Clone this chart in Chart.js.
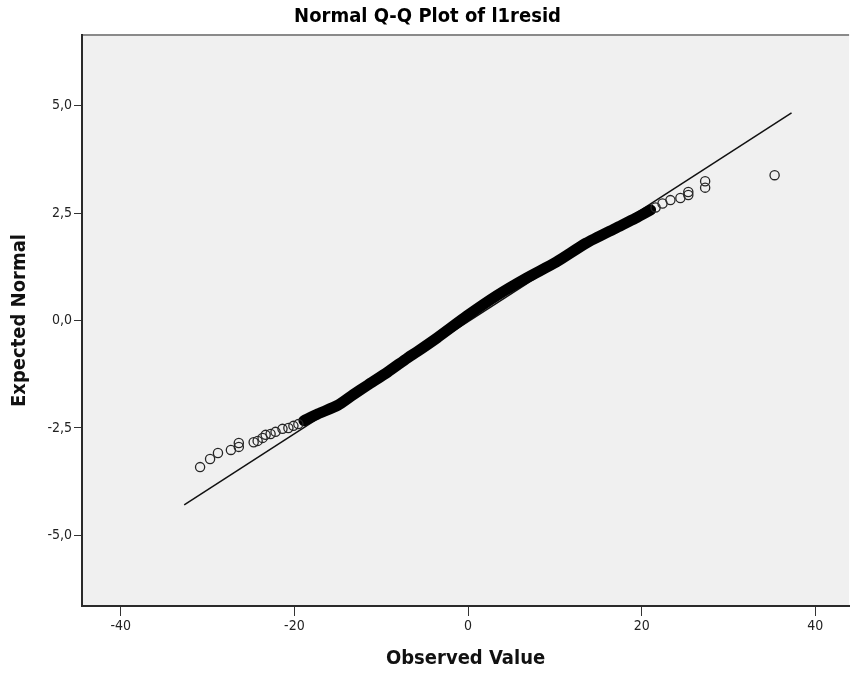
<!DOCTYPE html>
<html>
<head>
<meta charset="utf-8">
<script src="https://cdn.jsdelivr.net/npm/chart.js@4.4.1/dist/chart.umd.min.js"></script>
<style>
  html, body { margin: 0; padding: 0; background: #ffffff; }
  #wrap { width: 855px; height: 675px; }
</style>
</head>
<body>
<div id="wrap"><canvas id="qqChart" width="855" height="675"></canvas></div>
<script>
// lower tail residuals (observed value, expected normal)
var lowTailObserved = [-30.86, -29.71, -28.80, -27.31, -26.40, -26.40, -24.69, -24.23, -23.66, -23.31, -22.74, -22.17, -21.37, -20.69, -20.11, -19.54];
var lowTailExpected = [-3.41, -3.22, -3.08, -3.01, -2.94, -2.85, -2.83, -2.80, -2.73, -2.66, -2.64, -2.59, -2.52, -2.50, -2.45, -2.41];

// the dense middle of the sample, where the markers run together
var bandObserved = [-18.9, -17.26, -14.97, -13.26, -11.54, -9.26, -6.97, -5.83, -3.54, -0.11, 3.31, 6.74, 10.17, 13.60, 17.03, 19.31, 21.03];
var bandExpected = [-2.33, -2.17, -1.97, -1.73, -1.50, -1.20, -0.87, -0.72, -0.40, 0.11, 0.58, 0.99, 1.36, 1.80, 2.15, 2.38, 2.57];

// upper tail residuals
var highTailObserved = [21.60, 22.40, 23.31, 24.46, 25.37, 25.37, 27.31, 27.31, 35.31];
var highTailExpected = [2.63, 2.72, 2.80, 2.85, 2.92, 2.99, 3.09, 3.24, 3.38];

// normal reference line
var refObserved = [-32.69, 37.26];
var refExpected = [-4.29, 4.83];

var xTicks = [-40, -20, 0, 20, 40];
var yTicks = [-5, -2.5, 0, 2.5, 5];

var font = "'DejaVu Sans Condensed', 'Liberation Sans', Arial, sans-serif";

function toPoints(xs, ys) {
    var pts = [];
    for (var i = 0; i < xs.length; i++) {
        pts.push({ x: xs[i], y: ys[i] });
    }
    return pts;
}

function fixedTicks(values) {
    return function (scale) {
        scale.ticks = values.map(function (v) { return { value: v }; });
    };
}

// grey plot background and the top edge of the frame
var plotFrame = {
    id: 'plotFrame',
    beforeDraw: function (chart) {
        var a = chart.chartArea;
        var ctx = chart.ctx;
        ctx.save();
        ctx.fillStyle = '#f0f0f0';
        ctx.fillRect(a.left, a.top, a.right - a.left, a.bottom - a.top);
        ctx.strokeStyle = '#8a8a8a';
        ctx.lineWidth = 2;
        ctx.beginPath();
        ctx.moveTo(a.left, a.top);
        ctx.lineTo(a.right, a.top);
        ctx.stroke();
        ctx.restore();
    }
};

var ringStyle = {
    type: 'scatter',
    pointRadius: 4.6,
    pointHoverRadius: 4.6,
    pointBorderWidth: 1.3,
    pointBorderColor: '#262626',
    pointBackgroundColor: 'rgba(0,0,0,0)',
    showLine: false
};

var ctx = document.getElementById('qqChart').getContext('2d');
var qqChart = new Chart(ctx, {
    type: 'scatter',
    data: {
        datasets: [
            Object.assign({ label: 'low', data: toPoints(lowTailObserved, lowTailExpected) }, ringStyle),
            Object.assign({ label: 'high', data: toPoints(highTailObserved, highTailExpected) }, ringStyle),
            {
                type: 'line',
                label: 'band',
                data: toPoints(bandObserved, bandExpected),
                borderColor: '#000000',
                borderWidth: 11,
                borderCapStyle: 'round',
                borderJoinStyle: 'round',
                tension: 0.2,
                pointRadius: 0,
                fill: false
            },
            {
                type: 'line',
                label: 'reference',
                data: toPoints(refObserved, refExpected),
                borderColor: '#111111',
                borderWidth: 1.5,
                pointRadius: 0,
                fill: false
            }
        ]
    },
    options: {
        responsive: false,
        devicePixelRatio: 1,
        animation: false,
        layout: { padding: { left: 0, right: 0, top: 0, bottom: 0 } },
        plugins: {
            legend: { display: false },
            tooltip: { enabled: false },
            title: {
                display: true,
                text: 'Normal Q-Q Plot of l1resid',
                color: '#000000',
                font: { family: font, size: 20, weight: 'bold' },
                padding: { top: 5, bottom: 6 }
            }
        },
        scales: {
            x: {
                type: 'linear',
                min: -44.46,
                max: 43.89,
                afterBuildTicks: fixedTicks(xTicks),
                afterFit: function (scale) { scale.height = 69; },
                grid: { drawOnChartArea: false, drawTicks: true, tickLength: 10, color: '#333333', lineWidth: 1 },
                border: { display: true, color: '#2a2a2a', width: 2 },
                ticks: {
                    color: '#222222',
                    padding: 2,
                    font: { family: font, size: 14 },
                    callback: function (v) { return String(v); }
                },
                title: {
                    display: true,
                    text: 'Observed Value',
                    color: '#111111',
                    font: { family: font, size: 20, weight: 'bold' },
                    padding: { top: 10, bottom: 4 }
                }
            },
            y: {
                type: 'linear',
                min: -6.64,
                max: 6.64,
                afterBuildTicks: fixedTicks(yTicks),
                afterFit: function (scale) { scale.width = 82; },
                grid: { drawOnChartArea: false, drawTicks: true, tickLength: 8, color: '#333333', lineWidth: 1 },
                border: { display: true, color: '#2a2a2a', width: 2 },
                ticks: {
                    color: '#222222',
                    padding: 2,
                    font: { family: font, size: 14 },
                    callback: function (v) { return Number(v).toFixed(1).replace('.', ','); }
                },
                title: {
                    display: true,
                    text: 'Expected Normal',
                    color: '#111111',
                    font: { family: font, size: 20, weight: 'bold' },
                    padding: { top: 8, bottom: 0 }
                }
            }
        }
    },
    plugins: [plotFrame]
});
</script>
</body>
</html>
